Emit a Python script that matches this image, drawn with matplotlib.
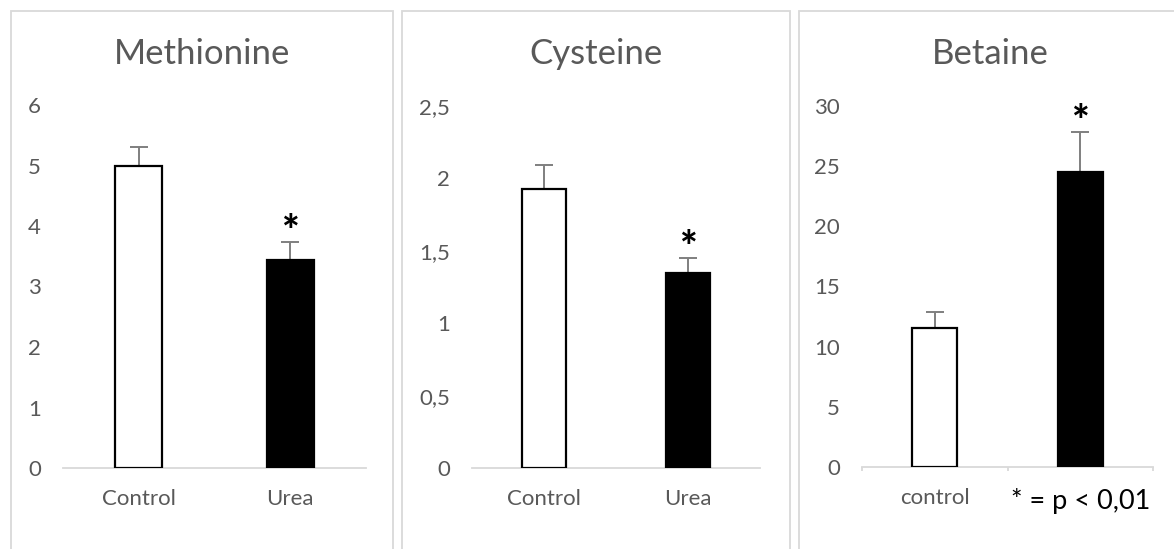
import matplotlib.pyplot as plt
from matplotlib.patches import Rectangle
from matplotlib.ticker import FixedLocator

plt.rcParams['font.family'] = ['Lato', 'DejaVu Sans']

# group means and upper error (SD) for each metabolite
titles = ['Methionine', 'Cysteine', 'Betaine']
categories = [['Control', 'Urea'], ['Control', 'Urea'], ['control', '* = p < 0,01']]
means = [[5.0, 3.44], [1.93, 1.35], [11.55, 24.5]]
errors = [[0.31, 0.29], [0.16, 0.10], [1.35, 3.3]]
significant = [[False, True], [False, True], [False, True]]
y_max = [6, 2.5, 30]
y_ticks = [[0, 1, 2, 3, 4, 5, 6],
           [0, 0.5, 1, 1.5, 2, 2.5],
           [0, 5, 10, 15, 20, 25, 30]]

W, H = 1174, 549
fig = plt.figure(figsize=(W / 100, H / 100), dpi=100)

# panel frames (left, right) and axes boxes in pixels
frames = [(11, 393), (402, 790), (799, 1181)]
axes_px = [(63, 366, 468, 105), (472, 760, 468, 106), (862, 1153, 467, 106)]

grey = '#595959'
light = '#d9d9d9'

for i in range(3):
    fl, fr = frames[i]
    fig.patches.append(Rectangle((fl / W, -0.1), (fr - fl) / W, 1.1 - 11 / H,
                                 transform=fig.transFigure, fill=False,
                                 edgecolor=light, linewidth=1.3))
    fig.text((fl + fr) / 2 / W, 1 - 64 / H, titles[i], ha='center', va='baseline',
             fontsize=25, color=grey)

    x0, x1, yb, yt = axes_px[i]
    ax = fig.add_axes([x0 / W, 1 - yb / H, (x1 - x0) / W, (yb - yt) / H])
    x = [0, 1]
    ax.bar(x, means[i], width=0.31, color=['white', 'black'],
           edgecolor='black', linewidth=1.6, zorder=3)
    ax.errorbar(x, means[i], yerr=[[0, 0], errors[i]], fmt='none',
                ecolor='#7f7f7f', elinewidth=1.4, capsize=6.5, capthick=1.4, zorder=2)
    for xi, m, e, s in zip(x, means[i], errors[i], significant[i]):
        if s:
            ax.annotate('*', (xi, m + e), xytext=(0, -7), textcoords='offset points',
                        ha='center', va='bottom', fontsize=30, fontweight='black',
                        color='black')

    ax.set_xlim(-0.5, 1.5)
    ax.set_ylim(0, y_max[i])
    ax.set_yticks(y_ticks[i])
    ax.set_yticklabels([f'{t:g}'.replace('.', ',') for t in y_ticks[i]])
    ax.set_xticks(x)
    ax.set_xticklabels(categories[i])
    for sp in ['top', 'left', 'right']:
        ax.spines[sp].set_visible(False)
    ax.spines['bottom'].set_color(light)
    ax.spines['bottom'].set_linewidth(1.3)
    ax.tick_params(axis='y', length=0, pad=16, labelsize=16, labelcolor=grey)
    ax.tick_params(axis='x', length=0, pad=15, labelsize=16, labelcolor=grey)
    if i == 2:
        ax.xaxis.set_minor_locator(FixedLocator([-0.5, 0.5, 1.5]))
        ax.tick_params(axis='x', which='minor', length=3, color=light, width=1.3)
        lab = ax.get_xticklabels()[1]
        lab.set_color('black')
        lab.set_fontsize(19.5)

fig.savefig('out.png', dpi=100)
